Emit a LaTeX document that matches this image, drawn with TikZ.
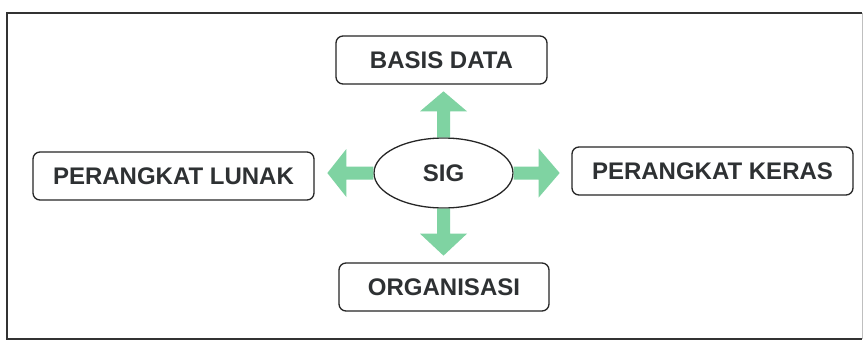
\documentclass[tikz,border=0pt]{standalone}
\usepackage{fontspec}
\setmainfont{Liberation Sans}[BoldFont={Liberation Sans Bold}]
\usetikzlibrary{shapes.geometric}
\definecolor{arrowgreen}{HTML}{7FD3A2}
\definecolor{txt}{HTML}{2E3133}
\begin{document}
\begin{tikzpicture}[x=1pt,y=-1pt,
  box/.style={draw=black!85,line width=1.3pt,rounded corners=7pt,inner sep=0pt},
  lbl/.style={font=\fontsize{24}{26}\selectfont\bfseries,text=txt},
  fat/.style={fill=arrowgreen,draw=none}]
\useasboundingbox (0,0) rectangle (863,343);
\fill[white] (0,0) rectangle (863,343);
% frame
\draw[black!80,line width=1.2pt] (862,13) -- (7,13) -- (7,339) -- (862,339);
\draw[black!25,line width=0.8pt] (862,13) -- (862,339);
% boxes
\node[box,minimum width=211pt,minimum height=48pt,lbl] (bd) at (441.5,60) {BASIS DATA};
\node[box,minimum width=210pt,minimum height=48pt,lbl] (org) at (444,287) {ORGANISASI};
\node[box,minimum width=281pt,minimum height=48pt,lbl] (pl) at (173.5,176) {PERANGKAT LUNAK};
\node[box,minimum width=281pt,minimum height=48pt,lbl] (pk) at (712.5,171) {PERANGKAT KERAS};
\node[ellipse,draw=black!85,line width=1.3pt,minimum width=139pt,minimum height=70pt,inner sep=0pt,lbl] (sig) at (443.5,173) {SIG};
% block arrows
\coordinate (up) at (sig.north);
\coordinate (dn) at (sig.south);
\coordinate (lf) at (sig.west);
\coordinate (rt) at (sig.east);
\fill[fat] (up) ++(-6.5,0) -- ++(0,-26) -- ++(-17,0) -- ++(23.5,-20) -- ++(23.5,20) -- ++(-17,0) -- ++(0,26) -- cycle;
\fill[fat] (dn) ++(-6.5,0) -- ++(0,25) -- ++(-17,0) -- ++(23.5,22) -- ++(23.5,-22) -- ++(-17,0) -- ++(0,-25) -- cycle;
\fill[fat] (lf) ++(0,-6.5) -- ++(-27,0) -- ++(0,-17.5) -- ++(-19,24) -- ++(19,24) -- ++(0,-17.5) -- ++(27,0) -- cycle;
\fill[fat] (rt) ++(0,-6.5) -- ++(25,0) -- ++(0,-18) -- ++(21,24.5) -- ++(-21,24.5) -- ++(0,-18) -- ++(-25,0) -- cycle;
\end{tikzpicture}
\end{document}
